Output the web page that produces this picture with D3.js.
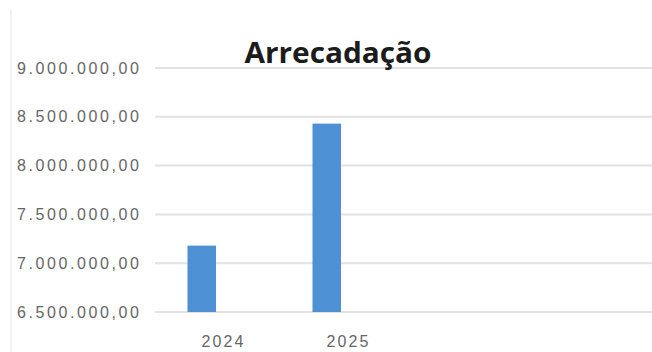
<!DOCTYPE html>
<html>
<head>
<meta charset="utf-8">
<script src="https://cdn.jsdelivr.net/npm/d3@7/dist/d3.min.js"></script>
<style>
  html, body { margin: 0; padding: 0; background: #fff; }
  svg { display: block; }
</style>
</head>
<body>
<script>
// Arrecadação por ano
const categories = ["2024", "2025"];
const values = [7180000, 8430000];
const yTicks = [6500000, 7000000, 7500000, 8000000, 8500000, 9000000];
const yTickLabels = ["6.500.000,00", "7.000.000,00", "7.500.000,00", "8.000.000,00", "8.500.000,00", "9.000.000,00"];
const title = "Arrecadação";

const W = 652, H = 352;
const svg = d3.select("body").append("svg").attr("width", W).attr("height", H);

const plotLeft = 155, plotRight = 652;
const labelFont = "'Liberation Sans Narrow', 'Liberation Sans', Arial, sans-serif";

const y = d3.scaleLinear().domain([6500000, 9000000]).range([312, 68]);
const x = d3.scaleBand().domain(categories).range([160, 410]).padding(0);

// faint chart-area border on the left
svg.append("line")
  .attr("x1", 11).attr("x2", 11).attr("y1", 10).attr("y2", H)
  .attr("stroke", "#ececec").attr("stroke-width", 1.5);

// horizontal gridlines
svg.append("g").selectAll("line").data(yTicks).join("line")
  .attr("x1", plotLeft).attr("x2", plotRight)
  .attr("y1", d => y(d)).attr("y2", d => y(d))
  .attr("stroke", "#e2e2e2").attr("stroke-width", 2);

// y axis labels
const yAxis = d3.axisLeft(y).tickValues(yTicks)
  .tickFormat((d, i) => yTickLabels[i]).tickSize(0).tickPadding(0);
const gy = svg.append("g").attr("transform", "translate(139,0)").call(yAxis);
gy.select(".domain").remove();
gy.selectAll("text")
  .attr("font-family", labelFont)
  .attr("font-size", 16)
  .attr("fill", "#666666")
  .attr("textLength", 122)
  .attr("lengthAdjust", "spacing");

// bars
const step = x.step();
const barW = step * 0.228;
svg.append("g").selectAll("rect").data(categories).join("rect")
  .attr("x", d => x(d) + x.bandwidth() / 2 - step * 0.28)
  .attr("width", barW)
  .attr("y", (d, i) => y(values[i]))
  .attr("height", (d, i) => y(6500000) - y(values[i]))
  .attr("fill", "#4d91d4");

// x axis labels
const xAxis = d3.axisBottom(x).tickSize(0).tickPadding(0);
const gx = svg.append("g").attr("transform", "translate(0,336)").call(xAxis);
gx.select(".domain").remove();
gx.selectAll("text")
  .attr("dy", "0.71em")
  .attr("font-family", labelFont)
  .attr("font-size", 16)
  .attr("fill", "#666666")
  .attr("textLength", 42)
  .attr("lengthAdjust", "spacing");

// title
svg.append("text")
  .attr("x", 338).attr("y", 63)
  .attr("text-anchor", "middle")
  .attr("font-family", "'Open Sans', 'Liberation Sans', sans-serif")
  .attr("font-weight", "bold")
  .attr("font-size", 28)
  .attr("fill", "#1c1c1c")
  .attr("textLength", 187)
  .attr("lengthAdjust", "spacingAndGlyphs")
  .text(title);
</script>
</body>
</html>
